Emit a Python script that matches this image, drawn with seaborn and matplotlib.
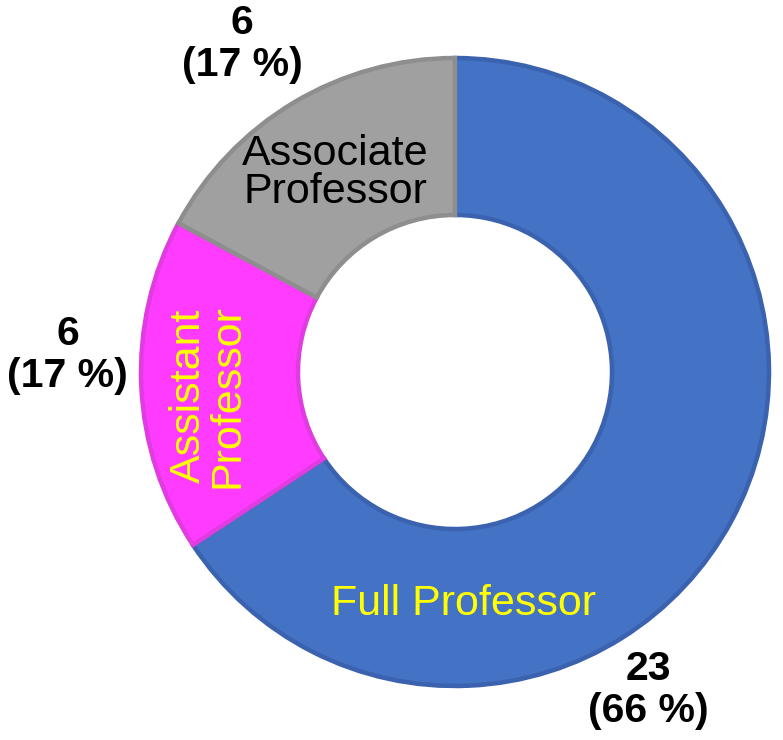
"""
Donut chart: faculty by academic rank.
"""
import numpy as np
import matplotlib.pyplot as plt
import seaborn as sns

# Data
ranks = ["Full Professor", "Assistant Professor", "Associate Professor"]
counts = [23, 6, 6]
inner_labels = ["Full Professor", "Assistant\nProfessor", "Associate\nProfessor"]

face_colors = ["#4472C4", "#FF3BFF", "#A0A0A0"]
edge_colors = ["#3A62AE", "#E03CE0", "#8E8E8E"]
inner_text_colors = ["#FFFF00", "#FFFF00", "black"]

sns.set_theme(style="white")
plt.rcParams["font.family"] = ["Liberation Sans", "DejaVu Sans"]

W, H = 783, 740
cx, cy, R = 455, 372, 314  # donut centre and radius in pixels

fig = plt.figure(figsize=(W / 100, H / 100), dpi=100)
ax = fig.add_axes([0, 0, 1, 1])

wedges, _ = ax.pie(
    counts,
    colors=face_colors,
    startangle=90,
    counterclock=False,
    radius=1.0,
    wedgeprops=dict(width=0.5, linewidth=3.2),
)
for w, ec in zip(wedges, edge_colors):
    w.set_edgecolor(ec)

# pie() resets the limits, so set them afterwards
ax.set_xlim(-cx / R, (W - cx) / R)
ax.set_ylim(-(H - cy) / R, cy / R)
ax.set_aspect("equal")
ax.axis("off")

total = sum(counts)

# inner labels: (radius, angle in degrees, rotation)
inner_pos = [(0.74, -88, 0), (0.79, 185.5, 90), (0.74, 121, 0)]
for lab, col, (r, a, rot) in zip(inner_labels, inner_text_colors, inner_pos):
    t = np.deg2rad(a)
    ax.text(r * np.cos(t), r * np.sin(t), lab, color=col, fontsize=31,
            ha="center", va="center", rotation=rot, linespacing=0.95)

# outer value labels
outer_pos = [(1.185, -58.7), (1.235, 177.5), (1.245, 123)]
for n, (r, a) in zip(counts, outer_pos):
    t = np.deg2rad(a)
    pct = round(n / total * 100)
    ax.text(r * np.cos(t), r * np.sin(t), f"{n}\n({pct} %)", color="black",
            fontsize=29.5, fontweight="bold", ha="center", va="center",
            linespacing=1.12)

fig.savefig("out.png", dpi=100)
